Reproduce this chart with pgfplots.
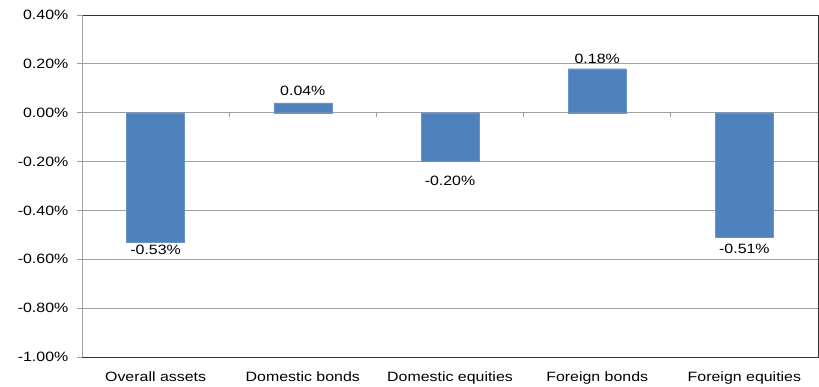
\documentclass[border=0pt]{standalone}
\usepackage{pgfplots}
\usepackage{pgfplotstable}
\pgfplotsset{compat=1.18}
\usepackage{fontspec}
\setmainfont[FakeStretch=1.18]{Liberation Sans}
\definecolor{barblue}{HTML}{4F81BD}
\definecolor{gridgray}{HTML}{A0A0A0}
\pgfplotstableread{
x y off
0 -0.53 -2
1 0.04 6
2 -0.20 -13
3 0.18 4
4 -0.51 -6
}\datatable
\begin{document}
\begin{tikzpicture}
\fontsize{13.5bp}{16bp}\selectfont
\begin{axis}[
  scale only axis,
  width=736bp, height=342bp,
  xmin=-0.5, xmax=4.5,
  ymin=-1.0, ymax=0.4,
  ytick={-1.0,-0.8,-0.6,-0.4,-0.2,0,0.2,0.4},
  yticklabel={\pgfmathprintnumber[fixed,fixed zerofill,precision=2]{\tick}\%},
  /pgf/number format/assume math mode=true,
  ymajorgrids,
  grid style={draw=gridgray, line width=0.8bp},
  major y tick style={draw=gridgray, line width=0.8bp},
  tick align=outside,
  major tick length=5bp,
  xtick={0,1,2,3,4},
  xticklabels={Overall assets,Domestic bonds,Domestic equities,Foreign bonds,Foreign equities},
  major x tick style={draw=none},
  xticklabel style={yshift=-5bp},
  yticklabel style={xshift=-4bp},
  axis line style={draw=black!80, line width=0.8bp},
  ybar,
  bar width=58bp,
  visualization depends on={\thisrow{off} \as \off},
  nodes near coords={\pgfmathprintnumber[fixed,fixed zerofill,precision=2]{\pgfplotspointmeta}\%},
  nodes near coords align={vertical},
  every node near coord/.append style={font=\fontsize{13.5bp}{16bp}\selectfont, inner sep=1bp, yshift=\off*1bp},
  /pgf/number format/.cd, fixed, fixed zerofill, precision=2,
]
\addplot[fill=barblue, draw=barblue!85!white] table[x=x, y=y] {\datatable};
\coordinate (sw) at (rel axis cs:0,0);
\coordinate (ne) at (rel axis cs:1,1);
\draw[gridgray, line width=0.8bp] (rel axis cs:0,0) -- (rel axis cs:0,1);
\pgfplotsinvokeforeach{0.5,1.5,2.5,3.5}{
  \draw[gridgray, line width=0.8bp] (axis cs:#1,0) -- ([yshift=-4bp]axis cs:#1,0);
}
\end{axis}
\pgfresetboundingbox
\path ([shift={(-82bp,-29bp)}]sw) rectangle ([shift={(1bp,15bp)}]ne);
\end{tikzpicture}
\end{document}
